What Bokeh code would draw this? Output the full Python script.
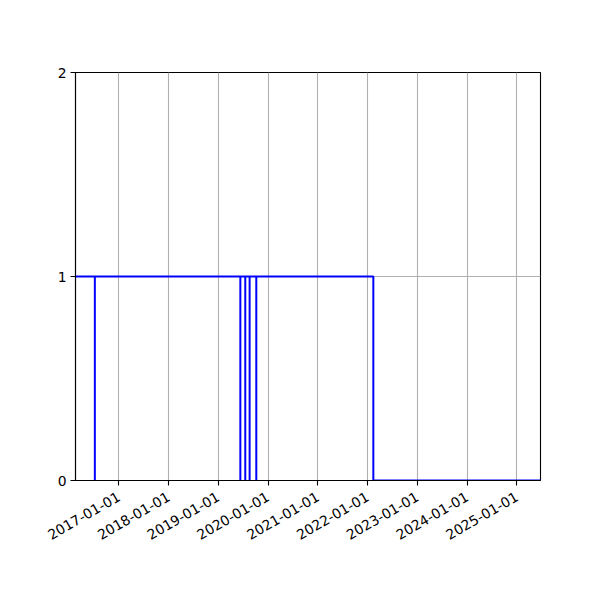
import math
import pandas as pd
from bokeh.plotting import figure
from bokeh.models import Range1d, FixedTicker, DatetimeTickFormatter
from bokeh.embed import file_html
from bokeh.resources import INLINE

# ---- data ----
dates = [
    "2016-01-01",
    "2016-07-09", "2016-07-09", "2016-07-09",
    "2019-06-12", "2019-06-12", "2019-06-12",
    "2019-07-18", "2019-07-18", "2019-07-18",
    "2019-08-19", "2019-08-19", "2019-08-19",
    "2019-10-07", "2019-10-07", "2019-10-07",
    "2022-02-12", "2022-02-12",
    "2025-12-31",
]
values = [
    1,
    1, 0, 1,
    1, 0, 1,
    1, 0, 1,
    1, 0, 1,
    1, 0, 1,
    1, 0,
    0,
]
x_start = "2016-02-18"
x_end = "2025-06-23"
x_tick_labels = ["2017-01-01", "2018-01-01", "2019-01-01", "2020-01-01",
                 "2021-01-01", "2022-01-01", "2023-01-01", "2024-01-01",
                 "2025-01-01"]
y_ticks = [0, 1, 2]

xs = pd.to_datetime(dates)

p = figure(
    x_axis_type="datetime",
    x_range=Range1d(pd.Timestamp(x_start), pd.Timestamp(x_end)),
    y_range=Range1d(0, 2),
    frame_width=465, frame_height=408,
    min_border_left=75, min_border_top=72,
    min_border_right=52, min_border_bottom=100,
    output_backend="svg", toolbar_location=None,
    background_fill_color="white", border_fill_color="white",
)

p.line(xs, values, line_color="#0000ff", line_width=2)

tick_ms = [pd.Timestamp(t).value // 10**6 for t in x_tick_labels]
p.xaxis.ticker = FixedTicker(ticks=tick_ms)
fmt = "%Y-%m-%d"
p.xaxis.formatter = DatetimeTickFormatter(
    milliseconds=fmt, seconds=fmt, minsec=fmt, minutes=fmt, hourmin=fmt,
    hours=fmt, days=fmt, months=fmt, years=fmt)
p.xaxis.major_label_orientation = math.radians(30)
p.yaxis.ticker = FixedTicker(ticks=y_ticks)

for ax in (p.xaxis, p.yaxis):
    ax.major_label_text_font = "DejaVu Sans"
    ax.major_label_text_font_size = "13.9px"
    ax.major_label_text_color = "black"
    ax.axis_line_color = "black"
    ax.axis_line_width = 1.1
    ax.major_tick_line_color = "black"
    ax.major_tick_line_width = 1.1
    ax.major_tick_out = 5
    ax.major_tick_in = 0
    ax.minor_tick_line_color = None
    ax.major_label_standoff = 4
p.xaxis.major_label_standoff = 10

for g in (p.xgrid, p.ygrid):
    g.grid_line_color = "#b0b0b0"
    g.grid_line_width = 1.1
    g.grid_line_alpha = 1.0
p.xgrid.ticker = p.xaxis.ticker
p.ygrid.ticker = p.yaxis.ticker

p.outline_line_color = "black"
p.outline_line_width = 1.1
p.outline_line_alpha = 1.0

open("out.html", "w").write(file_html(p, INLINE))
